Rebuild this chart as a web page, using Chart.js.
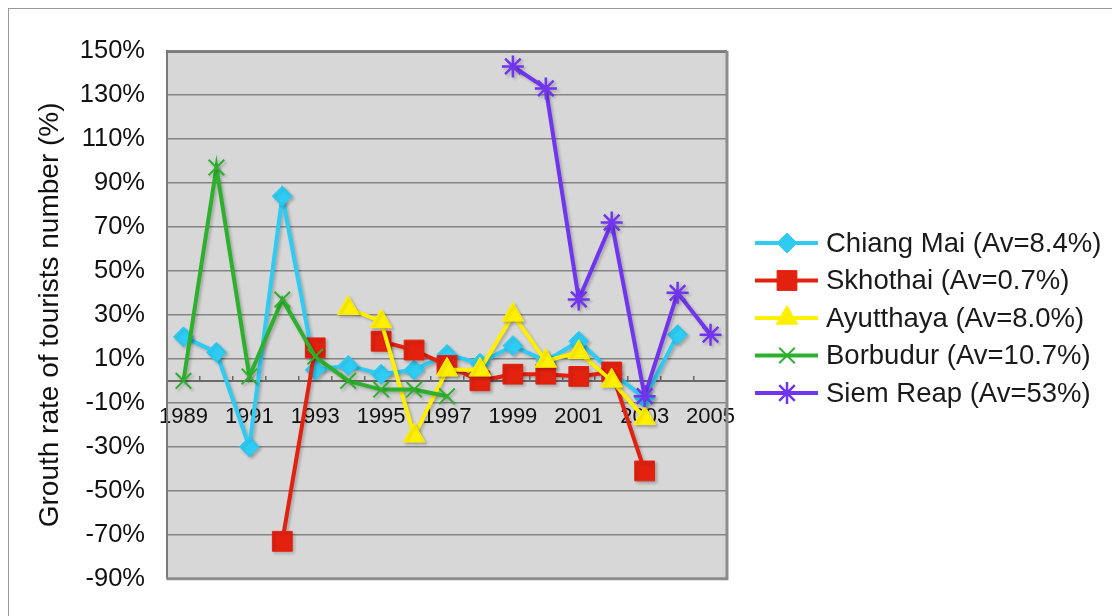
<!DOCTYPE html>
<html>
<head>
<meta charset="utf-8">
<script src="https://cdn.jsdelivr.net/npm/chart.js@4/dist/chart.umd.min.js"></script>
<style>
  html, body { margin: 0; padding: 0; background: #ffffff; }
  #wrap { width: 1112px; height: 616px; position: relative; }
</style>
</head>
<body>
<div id="wrap"><canvas id="chart"></canvas></div>
<script>
// Years on the category axis
const years = ['1989','1990','1991','1992','1993','1994','1995','1996','1997',
               '1998','1999','2000','2001','2002','2003','2004','2005'];

// Series names shown in the legend
const seriesNames = ['Chiang Mai (Av=8.4%)', 'Skhothai (Av=0.7%)', 'Ayutthaya (Av=8.0%)',
                     'Borbudur (Av=10.7%)', 'Siem Reap (Av=53%)'];

// Yearly growth rate of tourist numbers, in percent (null = no data)
const chiangMai = [20, 13, -30, 84, 5, 7, 3, 5, 12, 8, 16, 9, 18, 4, -8, 21, null];
const skhothai  = [null, null, null, -73, 15, null, 18, 14, 7, 0, 3, 3, 2, 4, -41, null, null];
const ayutthaya = [null, null, null, null, null, 33, 27, -25, 5, 5, 30, 9, 13, 0, -17, null, null];
const borbudur  = [0, 97, 2, 37, 11, 0, -4, -4, -7, null, null, null, null, null, null, null, null];
const siemReap  = [null, null, null, null, null, null, null, null, null, null, 143, 133, 37, 72, -7, 40, 21];

// Value axis range and step (percent)
const yAxisRange = [-90, 150, 20];

const FONT = "'Liberation Sans', Arial, sans-serif";

function series(label, data, color, style, radius, markerWidth, order) {
  return {
    label, data, order,
    borderColor: color,
    backgroundColor: color,
    borderWidth: 4,
    tension: 0,
    spanGaps: false,
    pointStyle: style,
    pointRadius: radius,
    pointHoverRadius: radius,
    pointBackgroundColor: color,
    pointBorderColor: color,
    pointBorderWidth: markerWidth
  };
}

const datasets = [
  series(seriesNames[0], chiangMai, '#2ECBF2', 'rectRot', 10, 1, 5),
  series(seriesNames[1], skhothai,  '#E3210F', 'rect', 14, 1, 4),
  series(seriesNames[2], ayutthaya, '#FFEF00', 'triangle', 12.5, 1, 3),
  series(seriesNames[3], borbudur,  '#2DB12D', 'crossRot', 11, 2, 2),
  series(seriesNames[4], siemReap,  '#7135F0', 'star', 11, 2.5, 1)
];

// Background, outer frame and grey plotting area
const framePlugin = {
  id: 'frame',
  beforeDraw(chart) {
    const { ctx, chartArea: a } = chart;
    ctx.save();
    ctx.fillStyle = '#ffffff';
    ctx.fillRect(0, 0, chart.width, chart.height);
    ctx.strokeStyle = '#9a9a9a';
    ctx.lineWidth = 1;
    ctx.strokeRect(8.5, 8.5, 1300, 800);
    ctx.fillStyle = '#D7D7D7';
    ctx.fillRect(a.left, a.top, a.right - a.left, a.bottom - a.top);
    ctx.restore();
  },
  beforeDatasetsDraw(chart) {
    const { ctx, chartArea: a } = chart;
    ctx.save();
    ctx.strokeStyle = '#7a7a7a';
    ctx.lineWidth = 2;
    ctx.beginPath();
    ctx.moveTo(a.left, a.top + 1);
    ctx.lineTo(a.right - 1, a.top + 1);
    ctx.stroke();
    ctx.strokeStyle = '#8c8c8c';
    ctx.lineWidth = 3;
    ctx.beginPath();
    ctx.moveTo(a.right, a.top);
    ctx.lineTo(a.right, a.bottom);
    ctx.lineTo(a.left, a.bottom);
    ctx.stroke();
    ctx.restore();
  }
};

// Soft drop shadow under lines and markers
const shadowPlugin = {
  id: 'shadow',
  beforeDatasetsDraw(chart) {
    const ctx = chart.ctx;
    ctx.save();
    ctx.shadowColor = 'rgba(0,0,0,0.22)';
    ctx.shadowOffsetX = 2;
    ctx.shadowOffsetY = 2;
    ctx.shadowBlur = 3;
  },
  afterDatasetsDraw(chart) {
    chart.ctx.restore();
  }
};

// Legend with line + marker samples, to the right of the plot
const lineLegendPlugin = {
  id: 'lineLegend',
  afterDraw(chart) {
    const ctx = chart.ctx;
    const x0 = 755, x1 = 818, xm = 787, xt = 826, y0 = 243, dy = 37.5;
    chart.data.datasets.forEach((ds, i) => {
      const y = y0 + i * dy;
      ctx.save();
      ctx.strokeStyle = ds.borderColor;
      ctx.lineWidth = ds.borderWidth;
      ctx.beginPath();
      ctx.moveTo(x0, y);
      ctx.lineTo(x1, y);
      ctx.stroke();
      ctx.fillStyle = ds.pointBackgroundColor;
      ctx.strokeStyle = ds.pointBorderColor;
      ctx.lineWidth = ds.pointBorderWidth;
      Chart.helpers.drawPoint(ctx, {
        pointStyle: ds.pointStyle, radius: ds.pointRadius, rotation: 0,
        borderWidth: ds.pointBorderWidth
      }, xm, y);
      ctx.fillStyle = '#1a1a1a';
      ctx.font = '27.5px ' + FONT;
      ctx.textAlign = 'left';
      ctx.textBaseline = 'middle';
      ctx.fillText(ds.label, xt, y + 1);
      ctx.restore();
    });
  }
};

new Chart(document.getElementById('chart'), {
  type: 'line',
  data: { labels: years, datasets },
  plugins: [framePlugin, shadowPlugin, lineLegendPlugin],
  options: {
    responsive: true,
    maintainAspectRatio: false,
    animation: false,
    devicePixelRatio: 1,
    layout: { padding: { top: 51, right: 385, bottom: 31, left: 0 } },
    plugins: {
      legend: { display: false },
      tooltip: { enabled: false }
    },
    scales: {
      x: {
        type: 'category',
        position: { y: 0 },
        offset: true,
        grid: {
          display: true, offset: true, drawOnChartArea: false,
          drawTicks: true, tickLength: -6, color: '#6a6a6a', lineWidth: 1.5
        },
        border: { display: true, color: '#6a6a6a', width: 2 },
        ticks: {
          autoSkip: false, maxRotation: 0, minRotation: 0, padding: 29,
          color: '#111111', font: { family: FONT, size: 22 },
          callback: (v, i) => (i % 2 === 0 ? years[i] : '')
        },
        afterFit: s => { s.height = 0; }
      },
      y: {
        min: yAxisRange[0], max: yAxisRange[1],
        ticks: {
          stepSize: yAxisRange[2], padding: 22,
          color: '#111111', font: { family: FONT, size: 25.5 },
          callback: v => v + '%'
        },
        grid: { color: '#858585', lineWidth: 1.5, drawTicks: false },
        border: { display: true, color: '#7a7a7a', width: 2 },
        title: {
          display: true,
          text: 'Grouth rate of tourists number (%)',
          color: '#111111',
          font: { family: FONT, size: 28 },
          padding: { top: 33, bottom: 0 }
        },
        afterFit: s => { s.width = 167; }
      }
    }
  }
});
</script>
</body>
</html>
